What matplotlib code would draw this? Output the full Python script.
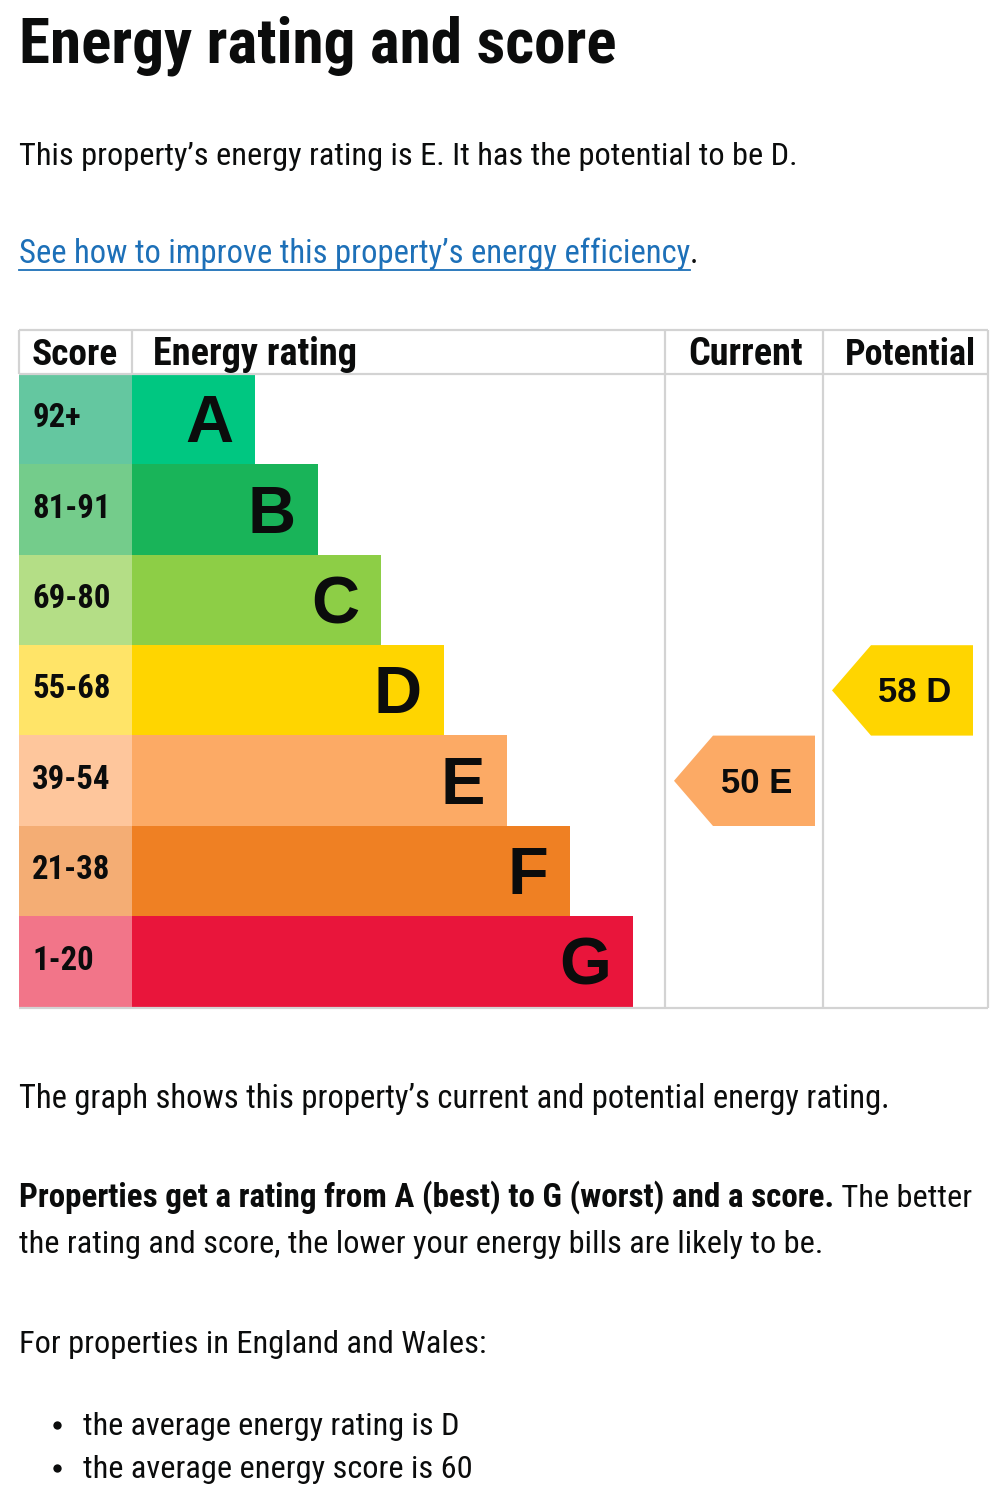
import matplotlib
matplotlib.use("Agg")
import matplotlib.pyplot as plt
from matplotlib import font_manager
from matplotlib.patches import Polygon

# EPC bands, score ranges and colours
bands = ["A", "B", "C", "D", "E", "F", "G"]
score_ranges = ["92+", "81-91", "69-80", "55-68", "39-54", "21-38", "1-20"]
band_colours = ["#00c781", "#19b459", "#8dce46", "#ffd500", "#fcaa65", "#ef8023", "#e9153b"]
score_colours = ["#64c7a0", "#74cc8b", "#b4de86", "#ffe468", "#fec69c", "#f4ad74", "#f27589"]

current_score, current_band = 50, "E"
potential_score, potential_band = 58, "D"
average_band, average_score = "D", 60


# look for a condensed sans face, the page text is narrow
def find_condensed():
    narrow_stretch = ("condensed", "semi-condensed", "extra-condensed", "ultra-condensed")
    prefs = ["Liberation Sans Narrow", "Roboto Condensed", "Noto Sans Condensed",
             "Open Sans Condensed", "DejaVu Sans Condensed",
             "Noto Sans", "Open Sans", "Roboto", "DejaVu Sans"]
    for name in prefs:
        for f in font_manager.fontManager.ttflist:
            if f.name != name:
                continue
            if "Narrow" in name or "Condensed" in name or f.stretch in narrow_stretch:
                return name
    return "Liberation Sans"


narrow = find_condensed()
plt.rcParams["font.family"] = [narrow, "DejaVu Sans"]
plt.rcParams["font.stretch"] = "condensed"
arial = ["Liberation Sans", "DejaVu Sans"]

fig = plt.figure(figsize=(10, 15), dpi=100)
ax = fig.add_axes([0, 0, 1, 1])
ax.set_xlim(0, 1000)
ax.set_ylim(1500, 0)
ax.axis("off")
renderer = fig.canvas.get_renderer()

# table geometry (pixels)
left, right = 19, 988
col_score, col_cur, col_pot = 132, 665, 823
head_top, head_bot = 330, 374
row_h = 90.4
bottom = head_bot + row_h * len(bands)
bar_base, bar_step = 123, 63

centers = [head_bot + row_h * (i + 0.5) for i in range(len(bands))]
lengths = [bar_base + bar_step * i for i in range(len(bands))]


def fit_text(x, y, s, width, **kw):
    t = ax.text(x, y, s, fontsize=20, va="baseline", **kw)
    w = t.get_window_extent(renderer).width
    t.set_fontsize(20 * width / w)
    return t


def right_edge(t):
    bb = t.get_window_extent(renderer)
    return ax.transData.inverted().transform((bb.x1, bb.y0))[0]


ink = "#0b0c0c"

# heading and intro text
fit_text(left, 62, "Energy rating and score", 596, weight="bold", color=ink)
fit_text(left, 165, "This property\u2019s energy rating is E. It has the potential to be D.",
         777, color=ink)
link = fit_text(left, 263, "See how to improve this property\u2019s energy efficiency", 669,
                color="#1d70b8")
link_end = right_edge(link)
ax.text(link_end, 263, ".", fontsize=link.get_fontsize(), va="baseline", color=ink)
ax.plot([left, link_end], [270, 270], color="#1d70b8", lw=1.3)

# bars
ax.barh(centers, [col_score - left] * len(bands), left=left, height=row_h + 0.6,
        color=score_colours, linewidth=0)
ax.barh(centers, lengths, left=col_score, height=row_h + 0.6,
        color=band_colours, linewidth=0)

# size for the score ranges, fitted on one sample
probe = fit_text(0, -100, "81-91", 78, weight="bold")
score_size = probe.get_fontsize()
probe.remove()

for c, ln, band, rng in zip(centers, lengths, bands, score_ranges):
    ax.text(col_score + ln - 22, c + 23, band, ha="right", va="baseline",
            fontsize=48, weight="bold", family=arial, stretch="normal", color=ink)
    ax.text(32, c + 8, rng, ha="left", va="baseline",
            fontsize=score_size, weight="bold", color=ink)

# grid lines
grid = dict(color="#d3d3d3", lw=1.6, solid_capstyle="butt")
ax.plot([left, right], [head_top, head_top], **grid)
ax.plot([left, right], [head_bot, head_bot], **grid)
ax.plot([left, right], [bottom + 1, bottom + 1], **grid)
ax.plot([left, left], [head_top, head_bot], **grid)
ax.plot([col_score, col_score], [head_top, head_bot], **grid)
for x in (col_cur, col_pot, right):
    ax.plot([x, x], [head_top, bottom + 1], **grid)

# header labels
fit_text(32, 365, "Score", 86, weight="bold", color=ink)
fit_text(153, 365, "Energy rating", 203, weight="bold", color=ink)
fit_text(688, 365, "Current", 114, weight="bold", color=ink)
fit_text(845, 365, "Potential", 131, weight="bold", color=ink)


# current / potential arrows
def arrow(col_left, band, score):
    i = bands.index(band)
    c = centers[i]
    top, bot = c - row_h / 2, c + row_h / 2
    tip = col_left + 9
    body = tip + 39
    end = tip + 141
    ax.add_patch(Polygon([(tip, c), (body, top), (end, top), (end, bot), (body, bot)],
                         closed=True, facecolor=band_colours[i], edgecolor="none"))
    ax.text((tip + 24 + end) / 2, c + 12, f"{score} {band}", ha="center", va="baseline",
            fontsize=25, weight="bold", stretch="normal", family=arial, color=ink)


arrow(col_cur, current_band, current_score)
arrow(col_pot, potential_band, potential_score)

# text under the chart
fit_text(left, 1108, "The graph shows this property\u2019s current and potential energy rating.",
         867, color=ink)
bold = fit_text(left, 1207, "Properties get a rating from A (best) to G (worst) and a score.",
                816, weight="bold", color=ink)
line3 = fit_text(left, 1253, "the rating and score, the lower your energy bills are likely to be.",
                 801, color=ink)
ax.text(right_edge(bold), 1207, " The better", fontsize=line3.get_fontsize(),
        va="baseline", color=ink)
fit_text(left, 1353, "For properties in England and Wales:", 466, color=ink)
bullets = [f"the average energy rating is {average_band}",
           f"the average energy score is {average_score}"]
for y, s, w in zip((1435, 1478), bullets, (377, 389)):
    fit_text(83, y, s, w, color=ink)
    ax.scatter([57], [y - 10], s=36, color=ink, linewidths=0)

fig.savefig("out.png", dpi=100)
